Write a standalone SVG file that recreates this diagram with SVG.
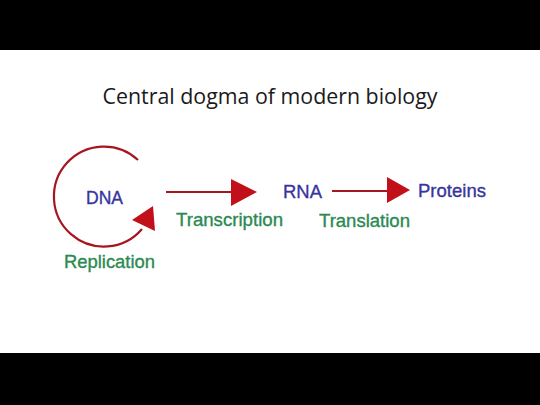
<svg xmlns="http://www.w3.org/2000/svg" width="540" height="405" viewBox="0 0 540 405">
  <style>
    .lbl { font-family: "Liberation Sans", Arial, sans-serif; stroke-width: 0.35; }
    .blue { fill: #37359c; stroke: #37359c; }
    .green { fill: #2a8a52; stroke: #2a8a52; }
    .line { stroke: #a5161f; stroke-width: 2.2; fill: none; }
    .head { fill: #c2101a; }
  </style>
  <rect x="0" y="0" width="540" height="405" fill="#ffffff"/>
  <rect x="0" y="0" width="540" height="50" fill="#000000"/>
  <rect x="0" y="353" width="540" height="52" fill="#000000"/>
  <text x="270" y="104" text-anchor="middle" font-family="'Open Sans', 'Noto Sans', sans-serif" font-size="21.5" fill="#1a1a1a" textLength="335" lengthAdjust="spacingAndGlyphs">Central dogma of modern biology</text>

  <g id="connectors">
    <g id="replication-arrow">
      <path class="line" d="M138,160 A50,50 0 1 0 142,229"/>
      <polygon class="head" points="132,220 153,206 155,231"/>
    </g>
    <g id="transcription-arrow">
      <line class="line" x1="166" y1="192" x2="233" y2="192"/>
      <polygon class="head" points="231,179 257,192 231,206"/>
    </g>
    <g id="translation-arrow">
      <line class="line" x1="332" y1="191" x2="389" y2="191"/>
      <polygon class="head" points="387,177 410,190 387,203"/>
    </g>
  </g>

  <g id="dna">
    <text class="lbl blue" x="86" y="203.5" font-size="18" textLength="37" lengthAdjust="spacingAndGlyphs">DNA</text>
  </g>
  <g id="rna">
    <text class="lbl blue" x="283" y="198" font-size="18.8" textLength="39" lengthAdjust="spacingAndGlyphs">RNA</text>
  </g>
  <g id="proteins">
    <text class="lbl blue" x="418" y="197" font-size="18.5" textLength="68" lengthAdjust="spacingAndGlyphs">Proteins</text>
  </g>
  <g id="labels">
    <text class="lbl green" x="64" y="267.5" font-size="18.5" textLength="91" lengthAdjust="spacingAndGlyphs">Replication</text>
    <text class="lbl green" x="176" y="225.5" font-size="18.5" textLength="107" lengthAdjust="spacingAndGlyphs">Transcription</text>
    <text class="lbl green" x="319" y="227" font-size="18.5" textLength="91" lengthAdjust="spacingAndGlyphs">Translation</text>
  </g>
</svg>
